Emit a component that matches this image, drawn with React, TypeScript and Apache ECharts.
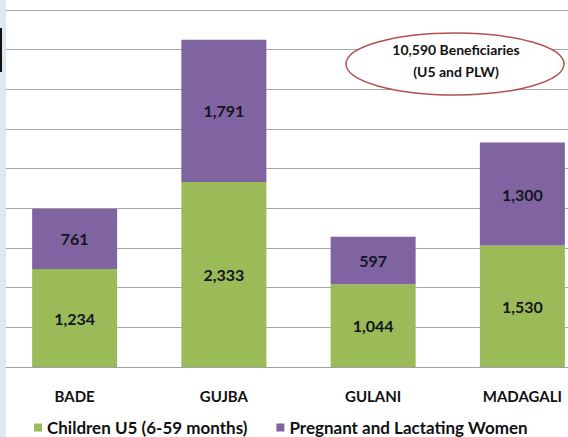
import React, { useEffect, useRef } from "react";
import * as echarts from "echarts";

const categories = ["BADE", "GUJBA", "GULANI", "MADAGALI"];
const childrenU5 = [1234, 2333, 1044, 1530];
const plw = [761, 1791, 597, 1300];
const seriesNames = ["Children U5 (6-59 months)", "Pregnant and Lactating Women"];
const calloutLines = ["10,590 Beneficiaries", "(U5 and PLW)"];

const FONT = "Lato, 'Open Sans', sans-serif";

export default function App() {
  const ref = useRef<HTMLDivElement>(null);
  useEffect(() => {
    if (!ref.current) return;
    document.body.style.overflow = "hidden";
    const chart = echarts.init(ref.current, undefined, { renderer: "svg" });
    const fmt = (p: any) => Number(p.value).toLocaleString("en-US");
    chart.setOption({
      animation: false,
      backgroundColor: "#ffffff",
      textStyle: { fontFamily: FONT },
      grid: { left: 0, top: 10, width: 597, height: 357, containLabel: false },
      xAxis: {
        type: "category",
        data: categories,
        axisLine: { show: true, lineStyle: { color: "#a0a0a0", width: 1 } },
        axisTick: { show: false },
        axisLabel: {
          margin: 21,
          fontFamily: FONT,
          fontWeight: "bold",
          fontSize: 15,
          color: "#111111",
        },
      },
      yAxis: {
        type: "value",
        min: 0,
        max: 4500,
        interval: 500,
        axisLabel: { show: false },
        axisLine: { show: false },
        axisTick: { show: false },
        splitLine: { show: true, lineStyle: { color: "#a8a8a8", width: 1 } },
      },
      legend: {
        left: 34,
        top: 419,
        padding: 0,
        itemWidth: 8,
        itemHeight: 8,
        itemGap: 29,
        icon: "rect",
        textStyle: {
          fontFamily: FONT,
          fontWeight: "bold",
          fontSize: 17,
          color: "#111111",
        },
        data: seriesNames,
      },
      series: [
        {
          name: seriesNames[0],
          type: "bar",
          stack: "total",
          barWidth: 85,
          data: childrenU5,
          itemStyle: { color: "#9BBB59" },
          label: {
            show: true,
            position: "inside",
            formatter: fmt,
            fontFamily: FONT,
            fontWeight: "bold",
            fontSize: 16,
            color: "#14141e",
          },
        },
        {
          name: seriesNames[1],
          type: "bar",
          stack: "total",
          barWidth: 85,
          data: plw,
          itemStyle: { color: "#8064A2" },
          label: {
            show: true,
            position: "inside",
            formatter: fmt,
            fontFamily: FONT,
            fontWeight: "bold",
            fontSize: 16,
            color: "#14141e",
          },
        },
      ],
      graphic: [
        {
          type: "rect",
          shape: { x: 0, y: 0, width: 6, height: 437 },
          style: { fill: "#dde8f1" },
          z: 100,
        },
        {
          type: "rect",
          shape: { x: 0, y: 28, width: 2, height: 44 },
          style: { fill: "#111111" },
          z: 101,
        },
        {
          type: "ellipse",
          shape: { cx: 455, cy: 64, rx: 109, ry: 31 },
          style: { fill: "#ffffff", stroke: "#b5504f", lineWidth: 1.5 },
          z: 100,
        },
        {
          type: "text",
          x: 456,
          y: 49,
          style: {
            text: calloutLines[0],
            fill: "#111111",
            font: `bold 14px ${FONT}`,
            textAlign: "center",
            textVerticalAlign: "middle",
          },
          z: 101,
        },
        {
          type: "text",
          x: 456,
          y: 71,
          style: {
            text: calloutLines[1],
            fill: "#111111",
            font: `bold 14px ${FONT}`,
            textAlign: "center",
            textVerticalAlign: "middle",
          },
          z: 101,
        },
      ],
    });
    return () => chart.dispose();
  }, []);
  return (
    <div
      ref={ref}
      style={{ position: "fixed", left: 0, top: 0, width: 600, height: 437 }}
    />
  );
}
